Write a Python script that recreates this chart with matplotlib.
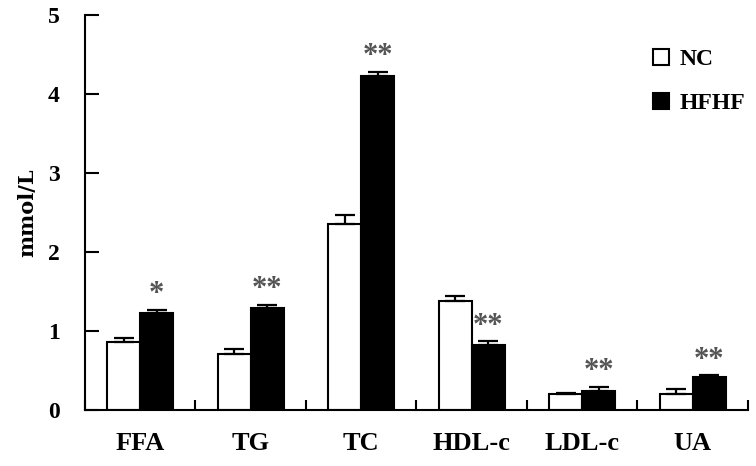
import matplotlib.pyplot as plt
import numpy as np

categories = ['FFA', 'TG', 'TC', 'HDL-c', 'LDL-c', 'UA']
nc_mean = [0.86, 0.71, 2.35, 1.38, 0.20, 0.20]
nc_err = [0.05, 0.06, 0.12, 0.06, 0.02, 0.07]
hfhf_mean = [1.23, 1.29, 4.23, 0.82, 0.24, 0.42]
hfhf_err = [0.04, 0.04, 0.05, 0.05, 0.05, 0.02]
marks = ['*', '**', '**', '**', '**', '**']

font = 'Liberation Serif'

fig = plt.figure(figsize=(7.56, 4.66), dpi=100)
ax = fig.add_axes([0.1124, 0.12, 0.8770, 0.848])

x = np.arange(len(categories))
w = 0.30
ekw = dict(elinewidth=1.6, capthick=1.6, ecolor='black')
ax.bar(x - w / 2, nc_mean, w, color='white', edgecolor='black', linewidth=1.5,
       yerr=[np.zeros(len(nc_err)), nc_err], capsize=7, error_kw=ekw, label='NC')
ax.bar(x + w / 2, hfhf_mean, w, color='black', edgecolor='black', linewidth=1.5,
       yerr=[np.zeros(len(hfhf_err)), hfhf_err], capsize=7, error_kw=ekw, label='HFHF')

for i, m in enumerate(marks):
    top = hfhf_mean[i] + hfhf_err[i]
    ax.text(x[i] + w / 2, top + 0.01, m, ha='center', va='bottom',
            fontsize=22, color='#555555', family=font, fontweight='bold')

ax.set_xlim(-0.5, len(categories) - 0.5)
ax.set_ylim(0, 5)
ax.set_yticks(range(6))
ax.set_xticks(np.arange(len(categories) + 1) - 0.5, minor=True)
ax.set_xticks(x)
ax.set_xticklabels(categories, family=font, fontweight='bold', fontsize=19)
ax.set_yticklabels([str(v) for v in range(6)], family=font, fontweight='bold', fontsize=17)
ax.tick_params(axis='x', which='major', length=0, pad=16)
ax.tick_params(axis='x', which='minor', direction='in', length=7, width=1.5)
ax.tick_params(axis='y', direction='in', length=10, width=1.5, pad=18)

for s in ['top', 'right']:
    ax.spines[s].set_visible(False)
for s in ['left', 'bottom']:
    ax.spines[s].set_linewidth(1.5)

ax.set_ylabel('mmol/L', family='DejaVu Serif', fontweight='bold', fontsize=15, labelpad=8)

fig.legend(loc='upper left', bbox_to_anchor=(641 / 756, 1 - 37 / 466), frameon=False,
           prop=dict(family=font, weight='bold', size=17), borderpad=0,
           handlelength=0.7, handleheight=0.7, handletextpad=0.45, labelspacing=0.95)

fig.savefig('out.png', dpi=100)
